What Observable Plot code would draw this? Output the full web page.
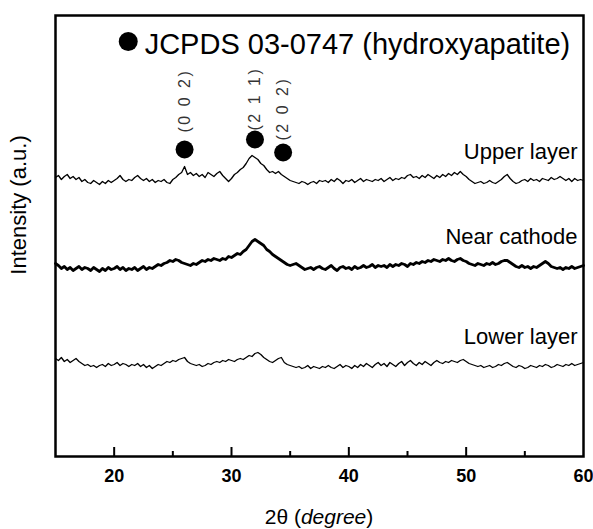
<!DOCTYPE html>
<html><head><meta charset="utf-8">
<script src="https://cdn.jsdelivr.net/npm/d3@7"></script>
<script src="https://cdn.jsdelivr.net/npm/@observablehq/plot@0.6"></script>
<style>
body{margin:0;background:#fff;}
#chart svg{font-family:"Liberation Sans",Arial,sans-serif;}
</style>
</head><body><div id="chart"></div>
<script>
// Intensity (a.u.), one value every 0.25 deg from 15 to 60 deg 2-theta
const upperLayer = [
280,282,278,281,283,279,281,278,280,
276,278,275,274,277,275,273,276,274,277,275,
277,279,282,278,276,278,277,280,282,279,277,279,276,278,275,277,276,278,275,274,
278,280,283,285,
291,
283,285,282,
284,281,283,280,285,283,281,284,286,282,279,276,
279,283,285,288,290,294,299,302,
300,298,294,292,288,285,286,284,286,283,281,279,277,276,275,
274,276,275,273,275,276,274,277,276,
277,275,278,276,279,277,274,277,276,278,275,277,279,276,278,277,
276,278,277,279,276,278,280,277,279,278,280,279,282,
283,280,281,279,282,280,283,281,279,282,280,283,281,284,282,285,283,
286,
283,281,278,276,274,
275,276,274,275,277,275,274,276,278,
281,283,
279,276,274,275,
277,278,276,279,277,278,276,279,278,277,280,278,279,
281,279,277,279,276,279,277,278,277
];
const nearCathode = [
194,192,
189,191,188,190,187,189,191,188,190,189,187,190,188,186,189,187,190,188,189,191,188,190,187,189,188,190,187,189,191,188,190,189,191,193,192,194,
195,197,196,198,197,195,
194,193,192,194,193,195,
197,196,198,197,199,198,197,199,198,201,200,
202,204,203,206,208,212,216,
218,
216,214,212,208,
206,203,201,199,
197,195,193,192,193,194,
192,190,188,189,190,188,190,191,189,188,190,192,189,187,190,191,189,190,188,191,189,190,192,190,191,193,190,192,191,
192,190,193,191,193,192,194,193,191,194,193,195,194,
196,195,197,196,198,197,196,198,197,199,197,196,198,199,
197,196,194,193,
192,194,193,192,194,193,195,193,194,196,197,
197,195,193,
191,190,192,190,191,189,191,190,192,194,
196,194,
191,190,189,190,188,190,189,191,189,190,191,192
];
const lowerLayer = [
99,97,100,96,98,95,97,99,96,
94,92,93,91,92,90,92,93,91,94,92,93,95,92,94,93,91,93,92,94,91,93,90,92,89,91,93,92,94,96,
95,97,96,98,99,
100,
96,94,93,92,93,91,92,94,93,95,
96,95,97,96,98,97,96,98,99,98,
100,102,101,104,105,103,
100,98,96,95,97,99,100,
95,93,92,91,
90,91,89,90,92,89,91,90,89,91,90,92,90,89,91,93,90,92,91,89,92,90,93,91,94,92,90,93,95,
92,94,91,95,93,91,94,96,92,95,97,94,92,95,93,96,94,92,95,97,95,94,96,95,97,96,95,97,98,96,
94,93,92,91,92,90,91,92,90,91,93,92,94,95,93,91,90,92,91,89,90,92,91,90,92,91,93,92,90,91,93,92,91,93,92,94,92,93,94,95
];

const seriesNames = ["Upper layer", "Near cathode", "Lower layer"];
const seriesLabelY = [299, 214, 114];

const peakHkl = ["(0 0 2)", "(2 1 1)", "(2 0 2)"];
const peakAngle = [26.0, 32.0, 34.4];
const peakMarkerY = [308, 318, 305];
const peakLabelY = [325, 327, 317];

const legendText = ["JCPDS 03-0747 (hydroxyapatite)"];
const legendMarkerX = [21.2];
const legendMarkerY = [416];
const legendTextX = [22.6];
const legendTextY = [404];

const xMajorTicks = [20, 30, 40, 50];
const xMinorTicks = [25, 35, 45, 55];
const xTickLabels = [20, 30, 40, 50, 60];
const xDomain = [15, 60];
const yDomain = [1, 442];

function toRows(vals, name) {
  const n = vals.length;
  return vals.map((v, i) => ({x: xDomain[0] + i * (xDomain[1] - xDomain[0]) / (n - 1), y: v, s: name}));
}
const upperRows = toRows(upperLayer, seriesNames[0]);
const nearRows = toRows(nearCathode, seriesNames[1]);
const lowerRows = toRows(lowerLayer, seriesNames[2]);
const peaks = peakHkl.map((t, i) => ({t, x: peakAngle[i], y: peakMarkerY[i], ly: peakLabelY[i]}));
const seriesLabels = seriesNames.map((t, i) => ({t, x: xDomain[1], y: seriesLabelY[i]}));
const legend = legendText.map((t, i) => ({t, mx: legendMarkerX[i], my: legendMarkerY[i], tx: legendTextX[i], ty: legendTextY[i]}));

const chart = Plot.plot({
  width: 593,
  height: 529,
  marginLeft: 55,
  marginRight: 10,
  marginTop: 15,
  marginBottom: 73,
  style: {background: "#fff", fontFamily: "Liberation Sans, Arial, sans-serif", overflow: "visible"},
  x: {domain: xDomain},
  y: {domain: yDomain, axis: null},
  marks: [
    Plot.ruleX(xMajorTicks, {x: d => d, y1: yDomain[0], y2: yDomain[0] + 9, strokeWidth: 2, stroke: "#000"}),
    Plot.ruleX(xMinorTicks, {x: d => d, y1: yDomain[0], y2: yDomain[0] + 5, strokeWidth: 2, stroke: "#000"}),
    Plot.line(upperRows, {x: "x", y: "y", stroke: "#000", strokeWidth: 1.3, strokeLinejoin: "round"}),
    Plot.line(nearRows, {x: "x", y: "y", stroke: "#000", strokeWidth: 2.8, strokeLinejoin: "round"}),
    Plot.line(lowerRows, {x: "x", y: "y", stroke: "#000", strokeWidth: 1.3, strokeLinejoin: "round"}),
    Plot.dot(peaks, {x: "x", y: "y", r: 9, fill: "#000", stroke: null}),
    Plot.text(peaks, {x: "x", y: "ly", text: "t", rotate: -90, textAnchor: "start", lineAnchor: "middle", fontSize: 16, fill: "#333"}),
    Plot.dot(legend, {x: "mx", y: "my", r: 9.5, fill: "#000", stroke: null}),
    Plot.text(legend, {x: "tx", y: "ty", text: "t", textAnchor: "start", lineAnchor: "bottom", fontSize: 29, fill: "#000"}),
    Plot.text(seriesLabels, {x: "x", y: "y", text: "t", dx: -6, textAnchor: "end", lineAnchor: "bottom", fontSize: 22, fill: "#000"}),
    Plot.axisX({ticks: xTickLabels, tickSize: 0, tickPadding: 13, label: null, fontSize: 18}),
    Plot.frame({stroke: "#000", strokeWidth: 2.5})
  ]
});

const svg = d3.select(chart);
svg.selectAll("text").filter(function() { return peakHkl.includes(this.textContent); })
  .attr("letter-spacing", 2.5);
svg.selectAll('g[aria-label="x-axis tick label"]')
  .attr("font-weight", "bold").style("font-size", "18px");
svg.selectAll('g[aria-label="x-axis tick label"] text')
  .style("font-size", "18px");

// axis titles
const xt = svg.append("text")
  .attr("x", 319).attr("y", 524)
  .attr("text-anchor", "middle")
  .attr("font-size", 21).attr("fill", "#000");
xt.append("tspan").text("2\u03b8 (");
xt.append("tspan").attr("font-style", "italic").text("degree");
xt.append("tspan").text(")");

svg.append("text")
  .attr("transform", "translate(26,205) rotate(-90)")
  .attr("text-anchor", "middle")
  .attr("font-size", 22).attr("fill", "#000")
  .text("Intensity (a.u.)");

document.getElementById("chart").appendChild(chart);
</script>
</body></html>
